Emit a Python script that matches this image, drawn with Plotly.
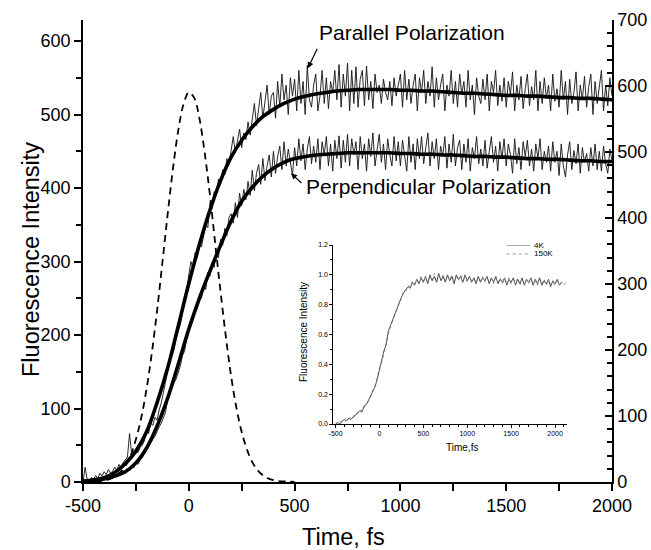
import plotly.graph_objects as go

FONT = "Liberation Sans, Arial, sans-serif"

# ---------------- data ----------------
time_noisy = list(range(-500, 2001, 10))
parallel_noisy = [
    0, 20, 3, 2, 6, 4, 9, 5, 12, 8,
    14, 10, 17, 12, 15, 20, 16, 24, 19, 27,
    30, 34, 66, 38, 36, 42, 40, 47, 50, 56,
    72, 66, 80, 77, 88, 84, 98, 108, 122, 135,
    150, 165, 172, 180, 196, 204, 215, 230, 245, 258,
    282, 300, 290, 312, 305, 328, 320, 338, 350, 346,
    380, 372, 395, 390, 412, 405, 425, 418, 440, 432,
    452, 470, 448, 462, 480, 455, 475, 466, 490, 472,
    498, 515, 485, 505, 530, 495, 520, 540, 500, 525,
    530, 495, 545, 510, 555, 520, 540, 500, 550, 525,
    548, 505, 560, 515, 545, 500, 567, 520, 510, 540,
    555, 505, 525, 560, 515, 550, 508, 545, 530, 560,
    520, 568, 510, 555, 525, 570, 505, 560, 515, 565,
    510, 548, 560, 512, 566, 520, 545, 508, 555, 530,
    540, 515, 548, 530, 520, 545, 512, 550, 525, 540,
    555, 510, 560, 520, 548, 515, 540, 555, 505, 550,
    530, 560, 515, 545, 525, 565, 510, 550, 520, 540,
    555, 505, 540, 525, 560, 515, 545, 510, 555, 528,
    545, 510, 560, 520, 540, 500, 550, 525, 515, 548,
    520, 555, 505, 545, 530, 560, 512, 540, 518, 550,
    510, 545, 528, 558, 505, 540, 520, 552, 508, 535,
    555, 512, 538, 520, 560, 505, 545, 515, 550, 522,
    540, 505, 555, 518, 535, 510, 560, 520, 545, 500,
    548, 515, 530, 558, 505, 540, 520, 552, 510, 538,
    555, 500, 545, 515, 535, 560, 505, 540, 512, 550,
    525,
]
perp_noisy = [
    0, 2, 1, 3, 0, 4, 2, 5, 3, 6,
    4, 7, 5, 9, 6, 10, 8, 13, 10, 15,
    13, 18, 15, 22, 19, 26, 24, 30, 33, 38,
    44, 48, 52, 58, 62, 70, 75, 80, 88, 95,
    112, 120, 126, 135, 140, 150, 158, 172, 178, 195,
    205, 222, 220, 238, 236, 255, 250, 268, 262, 285,
    280, 298, 292, 315, 305, 330, 322, 345, 335, 360,
    365, 352, 380, 360, 393, 376, 398, 384, 409, 390,
    424, 396, 420, 432, 405, 440, 410, 430, 445, 415,
    450, 420, 443, 457, 425, 463, 430, 453, 435, 417,
    455, 430, 467, 437, 460, 425, 453, 470, 433, 457,
    435, 467, 425, 463, 445, 470, 430, 460, 423, 465,
    440, 471, 427, 465, 435, 473, 430, 467, 445, 463,
    425, 470, 440, 460, 423, 467, 443, 475, 430, 455,
    473, 435, 460, 425, 467, 445, 430, 470, 437, 463,
    430, 465, 447, 423, 470, 435, 460, 425, 467, 440,
    470, 433, 455, 475, 430, 463, 440, 467, 425, 457,
    443, 470, 427, 460, 435, 473, 430, 455, 465, 425,
    460, 435, 467, 423, 455, 440, 470, 433, 453, 430,
    465, 427, 450, 470, 435, 457, 423, 463, 440, 467,
    430, 460, 445, 420, 467, 433, 455, 425, 463, 443,
    465, 430, 453, 423, 460, 440, 467, 425, 450, 435,
    457, 423, 463, 435, 450, 417, 460, 430, 415, 445,
    463, 425, 451, 433, 460, 420, 455, 435, 447, 423,
    455, 430, 460, 425, 450, 423, 457, 433, 420, 453,
    437,
]

time_fit = list(range(-500, 2001, 50))
parallel_fit = [
    1, 3, 6, 13, 25, 42, 68, 108, 155, 212, 270,
    323, 370, 410, 442, 465, 483, 497, 507, 515, 521,
    525, 528, 530, 532, 533, 534, 534, 534, 534, 533,
    533, 532, 532, 531, 530, 529, 529, 528, 527, 526,
    526, 525, 525, 524, 523, 523, 522, 522, 521, 520,
]
perp_fit = [
    1, 2, 4, 8, 14, 26, 46, 76, 114, 160, 208,
    250, 287, 322, 355, 382, 401, 416, 427, 435, 440,
    443, 445, 446, 447, 448, 448, 448, 448, 448, 447,
    447, 446, 446, 445, 445, 444, 443, 443, 442, 442,
    441, 440, 440, 439, 439, 438, 437, 437, 436, 436,
]

time_pulse = list(range(-500, 501, 25))
pulse = [
    0, 0, 0.5, 1, 2, 4, 7, 13, 22, 36, 58, 87, 126, 175, 233, 298, 364, 426, 478, 514, 530,
    523, 495, 448, 390, 324, 259, 198, 144, 101, 68, 44, 27, 16, 9, 5, 2.6, 1.3, 0.8, 0.4, 0.2,
]

inset_time_4k = list(range(-500, 2076, 25))
inset_4k = [
    0.00, 0.01, 0.00, 0.02, 0.03, 0.02, 0.04, 0.03, 0.05, 0.06,
    0.07, 0.09, 0.08, 0.12, 0.13, 0.16, 0.19, 0.22, 0.25, 0.30,
    0.37, 0.43, 0.49, 0.53, 0.62, 0.66, 0.70, 0.74, 0.77, 0.82,
    0.85, 0.88, 0.90, 0.92, 0.91, 0.95, 0.93, 0.97, 0.94, 0.98,
    0.95, 0.99, 0.94, 1.00, 0.96, 0.99, 0.95, 1.01, 0.96, 0.99,
    0.95, 1.00, 0.96, 0.99, 0.94, 1.00, 0.97, 0.99, 0.95, 1.00,
    0.96, 0.99, 0.95, 0.98, 0.94, 0.99, 0.95, 0.98, 0.96, 0.99,
    0.94, 0.98, 0.95, 0.99, 0.94, 0.97, 0.95, 0.98, 0.93, 0.97,
    0.95, 0.98, 0.93, 0.97, 0.94, 0.98, 0.93, 0.97, 0.95, 0.98,
    0.93, 0.97, 0.94, 0.98, 0.93, 0.96, 0.94, 0.97, 0.92, 0.96,
    0.94, 0.97, 0.93, 0.95,
]
inset_time_150k = list(range(-500, 2151, 25))
inset_150k = [
    0.01, 0.00, 0.02, 0.01, 0.03, 0.04, 0.03, 0.05, 0.04, 0.06,
    0.08, 0.07, 0.10, 0.11, 0.14, 0.15, 0.18, 0.23, 0.26, 0.31,
    0.38, 0.41, 0.48, 0.55, 0.60, 0.65, 0.69, 0.73, 0.78, 0.81,
    0.84, 0.89, 0.89, 0.93, 0.92, 0.96, 0.94, 0.96, 0.95, 0.99,
    0.96, 0.98, 0.95, 0.99, 0.97, 1.01, 0.95, 0.99, 0.97, 1.00,
    0.96, 0.99, 0.97, 1.00, 0.95, 0.99, 0.96, 1.00, 0.96, 0.98,
    0.95, 0.99, 0.96, 0.98, 0.95, 0.98, 0.96, 0.99, 0.95, 0.98,
    0.95, 0.97, 0.94, 0.98, 0.95, 0.98, 0.94, 0.97, 0.95, 0.98,
    0.94, 0.97, 0.95, 0.98, 0.93, 0.97, 0.94, 0.96, 0.94, 0.97,
    0.94, 0.96, 0.93, 0.97, 0.94, 0.97, 0.93, 0.96, 0.94, 0.95,
    0.93, 0.96, 0.94, 0.95, 0.93, 0.95, 0.94,
]

x_tick_vals = [-500, 0, 500, 1000, 1500, 2000]
x_tick_text = ["-500", "0", "500", "1000", "1500", "2000"]

# ---------------- figure ----------------
fig = go.Figure()

fig.add_trace(go.Scatter(x=time_noisy, y=parallel_noisy, mode="lines",
                         line=dict(color="#111111", width=0.9), showlegend=False))
fig.add_trace(go.Scatter(x=time_noisy, y=perp_noisy, mode="lines",
                         line=dict(color="#111111", width=0.9), showlegend=False))
fig.add_trace(go.Scatter(x=time_fit, y=parallel_fit, mode="lines", line_shape="spline",
                         line=dict(color="black", width=3.6), showlegend=False))
fig.add_trace(go.Scatter(x=time_fit, y=perp_fit, mode="lines", line_shape="spline",
                         line=dict(color="black", width=3.6), showlegend=False))
fig.add_trace(go.Scatter(x=time_pulse, y=pulse, mode="lines", line_shape="spline",
                         line=dict(color="black", width=1.8, dash="7px,5px"), showlegend=False))
# empty trace to activate the right axis
fig.add_trace(go.Scatter(x=[None], y=[None], yaxis="y2", mode="lines", showlegend=False,
                         hoverinfo="skip"))

# inset
fig.add_trace(go.Scatter(x=inset_time_150k, y=inset_150k, xaxis="x2", yaxis="y3", mode="lines",
                         line=dict(color="#9a9a9a", width=1, dash="dot"), showlegend=False))
fig.add_trace(go.Scatter(x=inset_time_4k, y=inset_4k, xaxis="x2", yaxis="y3", mode="lines",
                         line=dict(color="#555555", width=1), showlegend=False))

W, H = 651, 550
L, R, T, B = 83, 39, 20, 68
pw, ph = W - L - R, H - T - B


def px(xp):
    return (xp - L) / pw


def py(yp):
    return (H - B - yp) / ph


axis_common = dict(showgrid=False, zeroline=False, showline=True, linecolor="black",
                   linewidth=1.5, tickcolor="black", tickwidth=1.5,
                   tickfont=dict(family=FONT, size=18, color="black"))

fig.update_layout(
    width=W, height=H,
    margin=dict(l=L, r=R, t=T, b=B, autoexpand=False),
    paper_bgcolor="white", plot_bgcolor="white",
    showlegend=False,
    xaxis=dict(range=[-500, 2000], tickvals=x_tick_vals, ticktext=x_tick_text,
               ticks="outside", ticklen=7,
               minor=dict(dtick=250, tick0=-500, ticks="outside", ticklen=7, tickwidth=1.5,
                          tickcolor="black"),
               **axis_common),
    yaxis=dict(range=[0, 628.6], dtick=100, ticks="outside", ticklen=7,
               minor=dict(dtick=50, ticks="outside", ticklen=5, tickwidth=1.5, tickcolor="black"),
               **axis_common),
    yaxis2=dict(range=[0, 700], dtick=100, ticks="inside", ticklen=7, overlaying="y",
                side="right", anchor="x",
                minor=dict(dtick=20, ticks="inside", ticklen=5, tickwidth=1.5, tickcolor="black"),
                **axis_common),
    xaxis2=dict(domain=[px(333.3), px(566.7)], anchor="y3", range=[-526, 2133],
                tickvals=x_tick_vals, ticktext=x_tick_text, ticks="outside", ticklen=3,
                showgrid=False, zeroline=False, showline=True, linecolor="black", linewidth=1,
                tickcolor="black", tickwidth=1,
                minor=dict(dtick=100, tick0=0, ticks="outside", ticklen=2, tickwidth=1,
                           tickcolor="black"),
                tickfont=dict(family=FONT, size=7, color="black")),
    yaxis3=dict(domain=[py(424), py(245)], anchor="x2", range=[0, 1.2], dtick=0.2,
                tickformat=".1f", ticks="outside", ticklen=3,
                showgrid=False, zeroline=False, showline=True, linecolor="black", linewidth=1,
                tickcolor="black", tickwidth=1,
                minor=dict(dtick=0.1, ticks="outside", ticklen=2, tickwidth=1, tickcolor="black"),
                tickfont=dict(family=FONT, size=7, color="black")),
)

annotations = [
    dict(text="Time, fs", xref="paper", yref="paper", x=px(343), y=py(537), showarrow=False,
         font=dict(family=FONT, size=23.5, color="black"), xanchor="center", yanchor="middle"),
    dict(text="Fluorescence Intensity", xref="paper", yref="paper", x=px(31), y=py(260),
         showarrow=False, textangle=-90, font=dict(family=FONT, size=23.5, color="black"),
         xanchor="center", yanchor="middle"),
    dict(text="Parallel Polarization", xref="paper", yref="paper", x=px(412), y=py(32),
         showarrow=False, font=dict(family=FONT, size=21, color="black"),
         xanchor="center", yanchor="middle"),
    dict(text="Perpendicular Polarization", xref="paper", yref="paper", x=px(428), y=py(186),
         showarrow=False, font=dict(family=FONT, size=21, color="black"),
         xanchor="center", yanchor="middle"),
    dict(text="", x=563, y=563, xref="x", yref="y", ax=10, ay=-21, showarrow=True,
         arrowhead=2, arrowsize=1, arrowwidth=1.2, arrowcolor="black"),
    dict(text="", x=483, y=420, xref="x", yref="y", ax=12, ay=11, showarrow=True,
         arrowhead=2, arrowsize=1, arrowwidth=1.2, arrowcolor="black"),
    # inset titles & legend
    dict(text="Time,fs", xref="paper", yref="paper", x=px(462), y=py(447), showarrow=False,
         font=dict(family=FONT, size=10, color="black"), xanchor="center", yanchor="middle"),
    dict(text="Fluorescence Intensity", xref="paper", yref="paper", x=px(303), y=py(332),
         showarrow=False, textangle=-90, font=dict(family=FONT, size=10, color="black"),
         xanchor="center", yanchor="middle"),
    dict(text="4K", xref="x2", yref="y3", x=1740, y=1.20, showarrow=False,
         font=dict(family=FONT, size=8, color="black"), xanchor="left", yanchor="middle"),
    dict(text="150K", xref="x2", yref="y3", x=1740, y=1.14, showarrow=False,
         font=dict(family=FONT, size=8, color="black"), xanchor="left", yanchor="middle"),
]
fig.update_layout(annotations=annotations)

fig.update_layout(shapes=[
    dict(type="line", xref="x2", yref="y3", x0=1450, x1=1715, y0=1.20, y1=1.20,
         line=dict(color="#555555", width=1)),
    dict(type="line", xref="x2", yref="y3", x0=1450, x1=1715, y0=1.14, y1=1.14,
         line=dict(color="#9a9a9a", width=1, dash="dot")),
])

fig.write_html("out.html", config={"displayModeBar": False},
               post_script="document.body.style.margin='0px';")
